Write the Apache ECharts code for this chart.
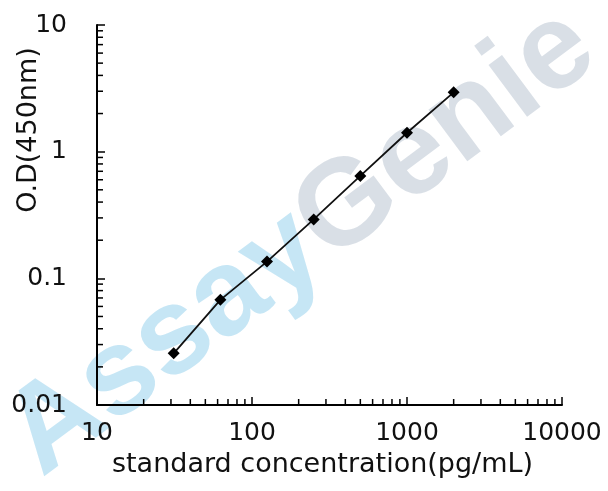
<!DOCTYPE html>
<html>
<head>
<meta charset="utf-8">
<script src="https://cdn.jsdelivr.net/npm/echarts@6/dist/echarts.min.js"></script>
<style>html,body{margin:0;padding:0;background:#fff}#c{width:608px;height:491px}</style>
</head>
<body>
<div id="c"></div>
<script>
var concentrations = [31.25, 62.5, 125, 250, 500, 1000, 2000];
var odValues = [0.0256, 0.0676, 0.1355, 0.292, 0.643, 1.41, 2.94];
var xTickLabels = ['10', '100', '1000', '10000'];
var yTickLabels = ['0.01', '0.1', '1', '10'];
var xMinorTicks = [20,30,40,50,60,70,80,90,200,300,400,500,600,700,800,900,2000,3000,4000,5000,6000,7000,8000,9000];
var yMinorTicks = [0.02,0.03,0.04,0.05,0.06,0.07,0.08,0.09,0.2,0.3,0.4,0.5,0.6,0.7,0.8,0.9,2,3,4,5,6,7,8,9];

var FONT = 'DejaVu Sans';
var chart = echarts.init(document.getElementById('c'), null, {renderer: 'canvas'});
var points = concentrations.map(function (c, i) { return [c, odValues[i]]; });

chart.setOption({
  animation: false,
  backgroundColor: '#fff',
  graphic: [{
    type: 'text',
    z: -10,
    x: 58, y: 500,
    rotation: 0.64,
    originX: 0, originY: 0,
    style: {
      text: '{a|Assay}{g|Genie}',
      rich: {
        a: {fill: '#b3def2', fontSize: 122, fontWeight: 'bold', fontFamily: 'Liberation Sans'},
        g: {fill: '#ccd4de', fontSize: 122, fontWeight: 'bold', fontFamily: 'Liberation Sans'}
      },
      opacity: 0.75,
      verticalAlign: 'bottom'
    }
  }],
  grid: {left: 97, right: 46, top: 25, bottom: 86, containLabel: false, outerBoundsMode: 'none'},
  xAxis: {
    type: 'log', logBase: 10, min: 10, max: 10000,
    name: 'standard concentration(pg/mL)',
    nameLocation: 'middle', nameGap: 46, nameMoveOverlap: false,
    nameTextStyle: {fontFamily: FONT, fontSize: 27, color: '#111', padding: [0, 14, 0, 0]},
    axisLine: {show: true, onZero: false, lineStyle: {color: '#000', width: 2}},
    axisTick: {show: true, inside: true, length: 8, lineStyle: {color: '#000', width: 1.5}},
    axisLabel: {fontFamily: FONT, fontSize: 25, color: '#111', margin: 16,
      formatter: function (v) { var i = Math.round(Math.log10(v)) - 1; return xTickLabels[i] || ''; }},
    splitLine: {show: false}
  },
  yAxis: {
    type: 'log', logBase: 10, min: 0.01, max: 10,
    name: 'O.D(450nm)',
    nameLocation: 'middle', nameGap: 55, nameRotate: 90, nameMoveOverlap: false,
    nameTextStyle: {fontFamily: FONT, fontSize: 27, color: '#111', padding: [0, 0, 0, 170]},
    axisLine: {show: true, onZero: false, lineStyle: {color: '#000', width: 2}},
    axisTick: {show: true, inside: true, length: 8, lineStyle: {color: '#000', width: 1.5}},
    axisLabel: {fontFamily: FONT, fontSize: 25, color: '#111', margin: 30,
      formatter: function (v) { var i = Math.round(Math.log10(v)) + 2; return yTickLabels[i] || ''; }},
    splitLine: {show: false}
  },
  series: [
    {
      type: 'custom', silent: true, clip: false, z: 3,
      data: xMinorTicks.map(function (v) { return [v]; }),
      renderItem: function (params, api) {
        var p = api.coord([api.value(0), 0.01]);
        return {type: 'line', shape: {x1: p[0], y1: p[1], x2: p[0], y2: p[1] - 6},
          style: {stroke: '#000', lineWidth: 1.5}};
      }
    },
    {
      type: 'custom', silent: true, clip: false, z: 3,
      data: yMinorTicks.map(function (v) { return [v]; }),
      renderItem: function (params, api) {
        var p = api.coord([10, api.value(0)]);
        return {type: 'line', shape: {x1: p[0], y1: p[1], x2: p[0] + 6, y2: p[1]},
          style: {stroke: '#000', lineWidth: 1.5}};
      },
      encode: {y: 0}
    },
    {
      type: 'line',
      data: points,
      symbol: 'diamond', symbolSize: 12,
      lineStyle: {color: '#111', width: 1.8},
      itemStyle: {color: '#000'},
      z: 5
    }
  ]
});
</script>
</body>
</html>
